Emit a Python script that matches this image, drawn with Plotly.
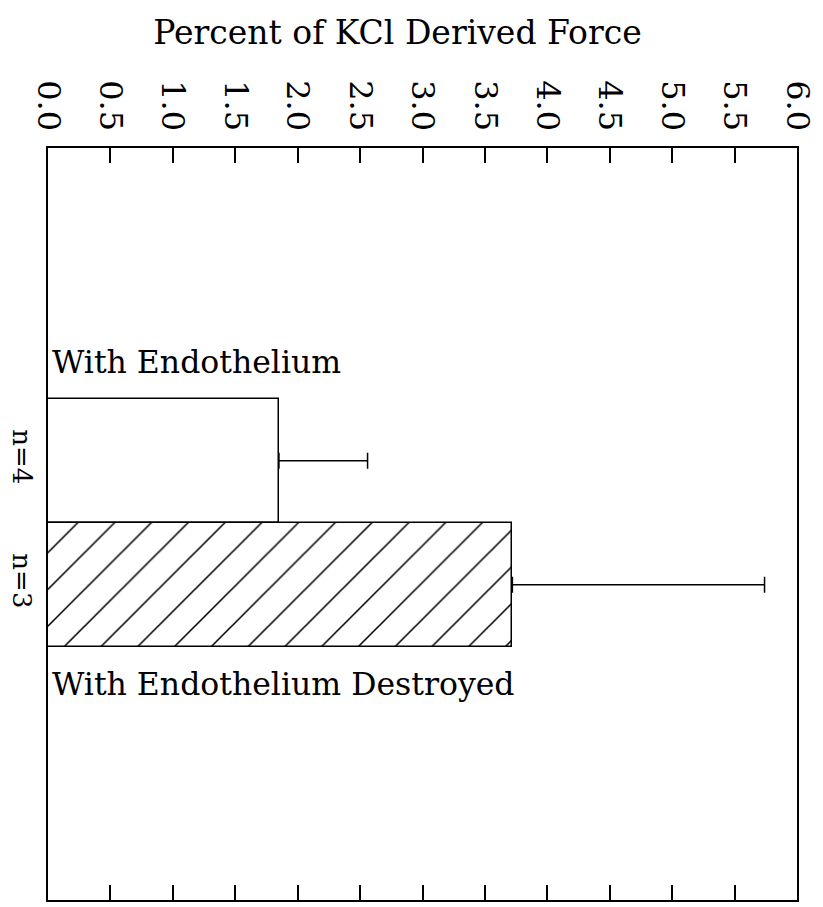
import plotly.graph_objects as go

categories = ["n=4", "n=3"]
group_labels = ["With Endothelium", "With Endothelium Destroyed"]
values = [1.85, 3.72]
errors_plus = [0.71, 2.02]
x_ticks = [0.0, 0.5, 1.0, 1.5, 2.0, 2.5, 3.0, 3.5, 4.0, 4.5, 5.0, 5.5, 6.0]
x_tick_labels = ["0.0", "0.5", "1.0", "1.5", "2.0", "2.5", "3.0", "3.5", "4.0", "4.5", "5.0", "5.5", "6.0"]
title_text = "Percent of KCl Derived Force"

FONT = "DejaVu Serif"
fs = 31.5

fig = go.Figure()
fig.add_trace(go.Bar(
    x=[values[0]], y=[categories[0]], orientation="h",
    marker=dict(color="white", line=dict(color="black", width=1.5)),
    error_x=dict(type="data", array=[errors_plus[0]], arrayminus=[0], symmetric=False,
                 color="black", thickness=1.5, width=8),
    width=1, showlegend=False,
))
fig.add_trace(go.Bar(
    x=[values[1]], y=[categories[1]], orientation="h",
    marker=dict(color="white", line=dict(color="black", width=1.5),
                pattern=dict(shape="/", fgcolor="black", bgcolor="white", fgopacity=1,
                             fillmode="replace", size=26, solidity=0.06)),
    error_x=dict(type="data", array=[errors_plus[1]], arrayminus=[0], symmetric=False,
                 color="black", thickness=1.5, width=8),
    width=1, showlegend=False,
))

fig.add_annotation(x=0, y=categories[0], yshift=99, xshift=2, text=group_labels[0],
                   showarrow=False, xanchor="left", yanchor="middle",
                   font=dict(family=FONT, size=fs, color="black"))
fig.add_annotation(x=0, y=categories[1], yshift=-99, xshift=2, text=group_labels[1],
                   showarrow=False, xanchor="left", yanchor="middle",
                   font=dict(family=FONT, size=fs, color="black"))

fig.update_layout(
    width=823, height=907,
    margin=dict(l=48, r=26, t=148, b=7, autoexpand=False),
    paper_bgcolor="white", plot_bgcolor="white",
    barmode="overlay", bargap=0,
    title=dict(text=title_text, x=0.483, xanchor="center", y=0.964, yanchor="middle",
               font=dict(family=FONT, size=33, color="black")),
    xaxis=dict(side="top", range=[0, 6], tickvals=x_ticks, ticktext=x_tick_labels,
               tickangle=90, ticks="inside", ticklen=15, tickwidth=1.5, tickcolor="black",
               showline=True, linecolor="black", linewidth=1.5, mirror="ticks",
               showgrid=False, zeroline=False, ticklabelstandoff=4, automargin=False,
               tickfont=dict(family=FONT, size=32, color="black")),
    yaxis=dict(type="category", categoryorder="array", categoryarray=categories,
               range=[3.54, -2.52], tickangle=90, ticks="", automargin=False,
               showline=True, linecolor="black", linewidth=1.5, mirror=True,
               showgrid=False, zeroline=False, ticklabelstandoff=2,
               tickfont=dict(family=FONT, size=26, color="black")),
)

fig.write_html("out.html", config={"displayModeBar": False},
               post_script="document.body.style.margin='0';")
